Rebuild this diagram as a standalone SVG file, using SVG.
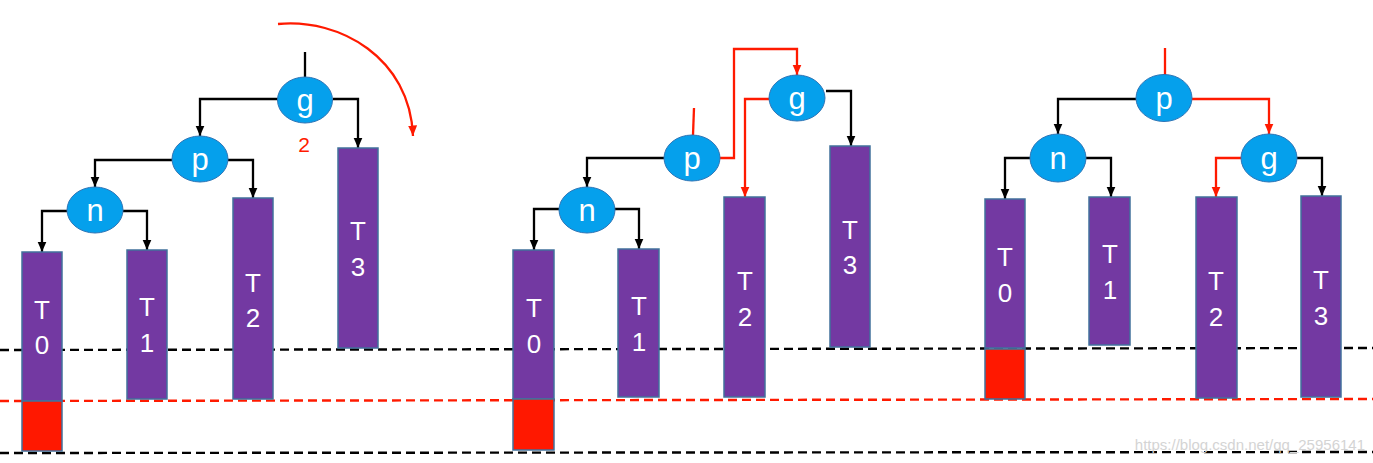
<svg xmlns="http://www.w3.org/2000/svg" width="1373" height="463" viewBox="0 0 1373 463">
<style>
.node ellipse{fill:#05A0EC;stroke:#2E75B6;stroke-width:1}
.node text{fill:#fff;font-family:"Liberation Sans",Arial,sans-serif;font-size:31px;text-anchor:middle}
.sub rect.t{fill:#7339A2;stroke:#41719C;stroke-width:1.5}
.sub rect.r{fill:#FF1800;stroke:#41719C;stroke-width:1.5}
.sub text{fill:#fff;font-family:"Liberation Sans",Arial,sans-serif;font-size:26px;text-anchor:middle}
.k{fill:none;stroke:#000;stroke-width:2.3}
.kr{fill:none;stroke:#FF1A00;stroke-width:2.3}
.dk{stroke:#000;stroke-width:2.4;stroke-dasharray:9 5}
.dr{stroke:#FF1A00;stroke-width:2.4;stroke-dasharray:9 5}
</style>
<defs>
<marker id="ak" markerUnits="userSpaceOnUse" markerWidth="11" markerHeight="11" refX="10.5" refY="5.5" orient="auto"><path d="M0,1 L10.5,5.5 L0,10 z" fill="#000"/></marker>
<marker id="ar" markerUnits="userSpaceOnUse" markerWidth="11" markerHeight="11" refX="10.5" refY="5.5" orient="auto"><path d="M0,1 L10.5,5.5 L0,10 z" fill="#FF1A00"/></marker>
</defs>
<rect width="1373" height="463" fill="#fff"/>

<g id="levels">
<line class="dk" x1="0" y1="350" x2="1373" y2="348"/>
<line class="dr" x1="0" y1="401" x2="1373" y2="399"/>
<line class="dk" x1="0" y1="453" x2="1373" y2="452"/>
</g>

<g id="connectors">
<!-- left tree -->
<path class="k" d="M305,52 V77"/>
<path class="k" d="M278,99 H200 V136" marker-end="url(#ak)"/>
<path class="k" d="M333,99 H358 V148" marker-end="url(#ak)"/>
<path class="k" d="M172,160 H95 V187" marker-end="url(#ak)"/>
<path class="k" d="M228,160 H253 V198" marker-end="url(#ak)"/>
<path class="k" d="M67,211 H42 V252" marker-end="url(#ak)"/>
<path class="k" d="M123,211 H147 V250" marker-end="url(#ak)"/>
<path class="kr" d="M278,24 C340,18 410,58 413,136" marker-end="url(#ar)"/>
<!-- middle tree -->
<path class="kr" d="M694,108 L693,135"/>
<path class="kr" d="M720,158 H734 V49 H797 V75" marker-end="url(#ar)"/>
<path class="kr" d="M769,99 H745 V197" marker-end="url(#ar)"/>
<path class="k" d="M826,91 H851 V146" marker-end="url(#ak)"/>
<path class="k" d="M664,158 H587 V187" marker-end="url(#ak)"/>
<path class="k" d="M559,209 H534 V250" marker-end="url(#ak)"/>
<path class="k" d="M614,209 H639 V249" marker-end="url(#ak)"/>
<!-- right tree -->
<path class="kr" d="M1165,48 V75"/>
<path class="k" d="M1136,99 H1058 V134" marker-end="url(#ak)"/>
<path class="kr" d="M1192,99 H1269 V134" marker-end="url(#ar)"/>
<path class="k" d="M1030,158 H1005 V199" marker-end="url(#ak)"/>
<path class="k" d="M1086,158 H1111 V197" marker-end="url(#ak)"/>
<path class="kr" d="M1241,158 H1216 V197" marker-end="url(#ar)"/>
<path class="k" d="M1297,158 H1322 V196" marker-end="url(#ak)"/>
</g>

<!-- left tree -->
<g id="L_g" class="node"><ellipse cx="305" cy="100" rx="27.5" ry="23"/><text x="305" y="111">g</text></g>
<text x="304" y="152" fill="#FF1A00" font-family="'Liberation Sans',Arial,sans-serif" font-size="21" text-anchor="middle">2</text>
<g id="L_p" class="node"><ellipse cx="200" cy="159" rx="28" ry="23"/><text x="200" y="170">p</text></g>
<g id="L_n" class="node"><ellipse cx="95" cy="210" rx="28" ry="23"/><text x="95" y="221">n</text></g>
<g id="L_T0" class="sub"><rect class="t" x="22" y="252" width="40" height="149"/><rect class="r" x="22" y="401" width="40" height="50"/><text x="42" y="319">T</text><text x="42" y="354">0</text></g>
<g id="L_T1" class="sub"><rect class="t" x="127" y="250" width="40" height="149"/><text x="147" y="316">T</text><text x="147" y="352">1</text></g>
<g id="L_T2" class="sub"><rect class="t" x="233" y="198" width="40" height="201"/><text x="253" y="292">T</text><text x="253" y="327">2</text></g>
<g id="L_T3" class="sub"><rect class="t" x="338" y="148" width="40" height="200"/><text x="358" y="240">T</text><text x="358" y="276">3</text></g>

<!-- middle tree -->
<g id="M_g" class="node"><ellipse cx="797" cy="98" rx="28" ry="23"/><text x="797" y="109">g</text></g>
<g id="M_p" class="node"><ellipse cx="692" cy="158" rx="28" ry="23"/><text x="692" y="169">p</text></g>
<g id="M_n" class="node"><ellipse cx="587" cy="210" rx="28" ry="23"/><text x="587" y="221">n</text></g>
<g id="M_T0" class="sub"><rect class="t" x="513" y="250" width="41" height="149"/><rect class="r" x="513" y="399" width="41" height="51"/><text x="534" y="317">T</text><text x="534" y="353">0</text></g>
<g id="M_T1" class="sub"><rect class="t" x="618" y="249" width="41" height="148"/><text x="639" y="315">T</text><text x="639" y="351">1</text></g>
<g id="M_T2" class="sub"><rect class="t" x="724" y="197" width="41" height="200"/><text x="745" y="290">T</text><text x="745" y="326">2</text></g>
<g id="M_T3" class="sub"><rect class="t" x="830" y="146" width="40" height="201"/><text x="850" y="239">T</text><text x="850" y="274">3</text></g>

<!-- right tree -->
<g id="R_p" class="node"><ellipse cx="1164" cy="98" rx="28" ry="23.5"/><text x="1164" y="109">p</text></g>
<g id="R_n" class="node"><ellipse cx="1058" cy="158" rx="28" ry="24"/><text x="1058" y="169">n</text></g>
<g id="R_g" class="node"><ellipse cx="1269" cy="158" rx="28" ry="24"/><text x="1269" y="169">g</text></g>
<g id="R_T0" class="sub"><rect class="t" x="985" y="199" width="40" height="149"/><rect class="r" x="985" y="349" width="40" height="50"/><text x="1005" y="266">T</text><text x="1005" y="302">0</text></g>
<g id="R_T1" class="sub"><rect class="t" x="1089" y="197" width="41" height="148"/><text x="1110" y="263">T</text><text x="1110" y="299">1</text></g>
<g id="R_T2" class="sub"><rect class="t" x="1196" y="197" width="41" height="201"/><text x="1216" y="290">T</text><text x="1216" y="326">2</text></g>
<g id="R_T3" class="sub"><rect class="t" x="1301" y="196" width="40" height="201"/><text x="1321" y="289">T</text><text x="1321" y="325">3</text></g>

<text x="1365" y="450" fill="#d4d4d4" font-family="'Liberation Sans',Arial,sans-serif" font-size="15" text-anchor="end">https://blog.csdn.net/qq_25956141</text>
</svg>
